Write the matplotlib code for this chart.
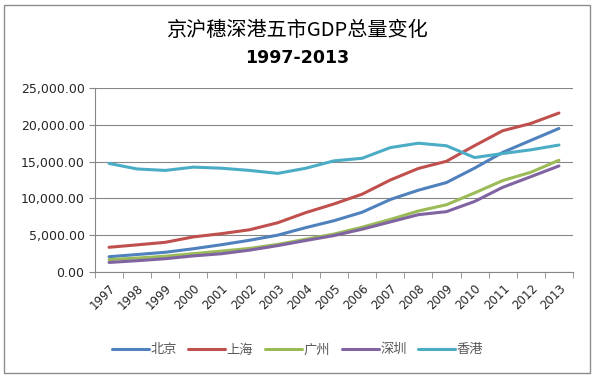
import matplotlib
matplotlib.use("Agg")
import matplotlib.pyplot as plt
from matplotlib.patches import Rectangle
from matplotlib.ticker import FuncFormatter, FixedLocator

plt.rcParams['font.family'] = ['DejaVu Sans', 'Noto Sans CJK SC']

YEARS = [str(y) for y in range(1997, 2014)]
CITIES = ["北京", "上海", "广州", "深圳", "香港"]
COLORS = ["#4F81BD", "#C0504D", "#9BBB59", "#8064A2", "#4BACC6"]

beijing = [2076, 2376, 2679, 3162, 3708, 4315, 5007, 6033, 6970, 8118,
           9847, 11115, 12153, 14114, 16252, 17879, 19501]
shanghai = [3360, 3688, 4035, 4771, 5210, 5741, 6694, 8073, 9248, 10572,
            12494, 14070, 15046, 17166, 19196, 20182, 21602]
guangzhou = [1678, 1893, 2139, 2493, 2842, 3204, 3759, 4451, 5154, 6082,
             7140, 8287, 9138, 10748, 12423, 13551, 15180]
shenzhen = [1297, 1535, 1804, 2188, 2483, 2970, 3586, 4282, 4951, 5814,
            6802, 7787, 8201, 9582, 11506, 12950, 14410]
hongkong = [14750, 14000, 13800, 14250, 14100, 13800, 13400, 14100, 15100, 15450,
            16900, 17500, 17150, 15550, 16100, 16600, 17250]
SERIES = [beijing, shanghai, guangzhou, shenzhen, hongkong]

fig = plt.figure(figsize=(5.95, 3.78), dpi=100)
fig.patches.append(Rectangle((0.006, 0.013), 0.986, 0.975, transform=fig.transFigure,
                             fill=False, edgecolor="#8c8c8c", linewidth=1.0))

ax = fig.add_axes([95 / 595, 1 - 272 / 378, 478 / 595, 184 / 378])
x = list(range(len(YEARS)))
for name, vals, color in zip(CITIES, SERIES, COLORS):
    ax.plot(x, vals, color=color, linewidth=2.2, label=name, solid_capstyle="round")

ax.set_xlim(-0.5, len(YEARS) - 0.5)
ax.set_ylim(0, 25000)
ax.set_yticks(range(0, 25001, 5000))
ax.yaxis.set_major_formatter(FuncFormatter(lambda v, p: f"{v:,.2f}"))
ax.set_xticks(x)
ax.set_xticklabels(YEARS, rotation=45, ha="right", rotation_mode="anchor", fontsize=8.5)
ax.xaxis.set_minor_locator(FixedLocator([i - 0.5 for i in range(len(YEARS) + 1)]))
ax.tick_params(axis="x", which="major", length=0, pad=7, labelcolor="#262626")
ax.tick_params(axis="x", which="minor", length=4, color="#868686", direction="out")
ax.tick_params(axis="y", length=4, color="#868686", labelsize=9, labelcolor="#262626")
ax.grid(True, axis="y", color="#868686", linewidth=0.8)
ax.set_axisbelow(True)
for s in ["top", "right"]:
    ax.spines[s].set_visible(False)
for s in ["left", "bottom"]:
    ax.spines[s].set_color("#868686")

fig.text(0.5, 1 - 31 / 378, "京沪穗深港五市GDP总量变化", ha="center", va="center",
         fontsize=14.5, family=['Noto Sans CJK SC', 'DejaVu Sans'])
fig.text(0.5, 1 - 58 / 378, "1997-2013", ha="center", va="center",
         fontsize=12.5, fontweight="bold")

leg = fig.legend(loc="center", bbox_to_anchor=(0.5, 1 - 350 / 378), ncol=5, frameon=False,
                 prop={"family": ['Noto Sans CJK SC'], "size": 9.5}, handlelength=2.8,
                 columnspacing=0.9, handletextpad=0.1)
for t in leg.get_texts():
    t.set_color("#595959")

fig.savefig("out.png", dpi=100)
